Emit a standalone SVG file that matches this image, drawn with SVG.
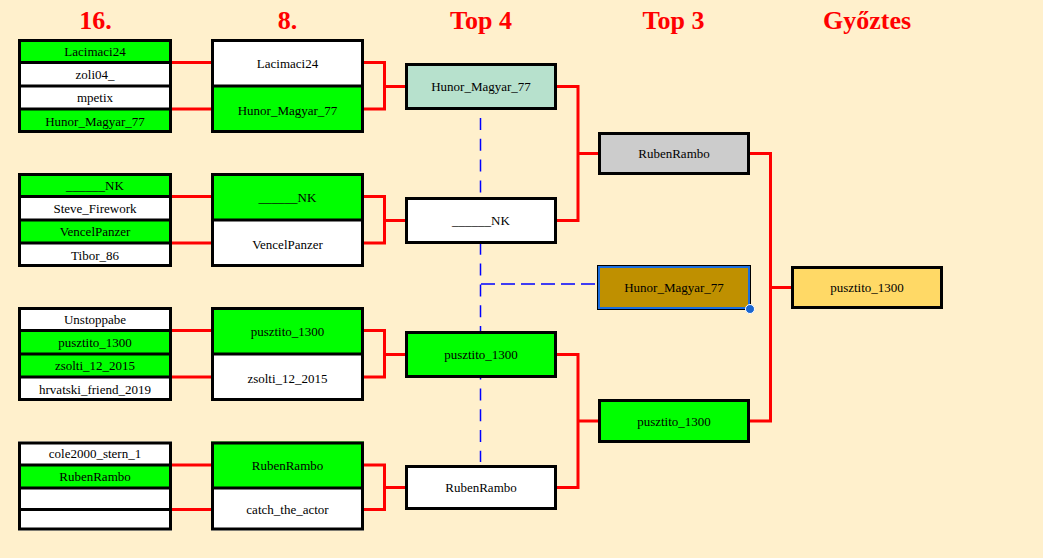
<svg xmlns="http://www.w3.org/2000/svg" width="1043" height="558" viewBox="0 0 1043 558">
<style>
.hdr{font-family:"Liberation Serif","Times New Roman",serif;font-weight:bold;font-size:26px;fill:#ff0000;text-anchor:middle}
.t{font-family:"Liberation Serif","Times New Roman",serif;font-size:13px;fill:#000;text-anchor:middle}
.box{stroke:#000;stroke-width:3}
.div{stroke:#000;stroke-width:3}
.g{fill:#00ff00}
.w{fill:#ffffff}
.con{fill:none;stroke:#ff0000;stroke-width:3}
.dash{fill:none;stroke:#0000ff;stroke-width:1.5}
</style>
<rect x="0" y="0" width="1043" height="558" fill="#fff0cc"/>
<g id="headers">
<text class="hdr" x="95.5" y="29">16.</text>
<text class="hdr" x="287.5" y="29">8.</text>
<text class="hdr" x="481" y="29">Top 4</text>
<text class="hdr" x="673.5" y="29">Top 3</text>
<text class="hdr" x="867" y="29">Győztes</text>
</g>
<g id="connectors">
<path class="dash" d="M480.5 118 V462" stroke-dasharray="12 8.8"/>
<path class="dash" d="M481 284 H597" stroke-dasharray="14 6"/>
<path class="con" d="M172 62.5 H211 M172 109 H211"/>
<path class="con" d="M172 196.5 H211 M172 243 H211"/>
<path class="con" d="M172 330.5 H211 M172 377 H211"/>
<path class="con" d="M172 465 H211 M172 509.5 H211"/>
<path class="con" d="M364 62.5 H384.5 V109 H364 M384.5 86.5 H405"/>
<path class="con" d="M364 196.5 H384.5 V243 H364 M384.5 220.5 H405"/>
<path class="con" d="M364 330.5 H384.5 V377 H364 M384.5 354.5 H405"/>
<path class="con" d="M364 465 H384.5 V509.5 H364 M384.5 487.5 H405"/>
<path class="con" d="M557 86.5 H578 V220.5 H557 M578 153.5 H598"/>
<path class="con" d="M557 354.5 H578 V487.5 H557 M578 421 H598"/>
<path class="con" d="M750 153.5 H770.5 V421 H750 M770.5 287.5 H791"/>
</g>
<g id="r16-1">
<rect class="g" x="18" y="39" width="154" height="23.5"/>
<rect class="w" x="18" y="62.5" width="154" height="23.5"/>
<rect class="w" x="18" y="86" width="154" height="23"/>
<rect class="g" x="18" y="109" width="154" height="24"/>
<path class="div" d="M18 62.5 H172 M18 86 H172 M18 109 H172"/>
<rect class="box" x="19.5" y="40.5" width="151" height="91" fill="none"/>
<text class="t" x="95" y="55.5">Lacimaci24</text>
<text class="t" x="95" y="79">zoli04_</text>
<text class="t" x="95" y="102">mpetix</text>
<text class="t" x="95" y="125.5">Hunor_Magyar_77</text>
</g>
<g id="r16-2">
<rect class="g" x="18" y="173" width="154" height="23.5"/>
<rect class="w" x="18" y="196.5" width="154" height="23.5"/>
<rect class="g" x="18" y="220" width="154" height="23"/>
<rect class="w" x="18" y="243" width="154" height="24"/>
<path class="div" d="M18 196.5 H172 M18 220 H172 M18 243 H172"/>
<rect class="box" x="19.5" y="174.5" width="151" height="91" fill="none"/>
<text class="t" x="95" y="189.5">______NK</text>
<text class="t" x="95" y="213">Steve_Firework</text>
<text class="t" x="95" y="236">VencelPanzer</text>
<text class="t" x="95" y="259.5">Tibor_86</text>
</g>
<g id="r16-3">
<rect class="w" x="18" y="307" width="154" height="23.5"/>
<rect class="g" x="18" y="330.5" width="154" height="23.5"/>
<rect class="g" x="18" y="354" width="154" height="23"/>
<rect class="w" x="18" y="377" width="154" height="24"/>
<path class="div" d="M18 330.5 H172 M18 354 H172 M18 377 H172"/>
<rect class="box" x="19.5" y="308.5" width="151" height="91" fill="none"/>
<text class="t" x="95" y="323.5">Unstoppabe</text>
<text class="t" x="95" y="347">pusztito_1300</text>
<text class="t" x="95" y="370">zsolti_12_2015</text>
<text class="t" x="95" y="393.5">hrvatski_friend_2019</text>
</g>
<g id="r16-4">
<rect class="w" x="18" y="441.5" width="154" height="23.5"/>
<rect class="g" x="18" y="465" width="154" height="23"/>
<rect class="w" x="18" y="488" width="154" height="21.5"/>
<rect class="w" x="18" y="509.5" width="154" height="21"/>
<path class="div" d="M18 465 H172 M18 488 H172 M18 509.5 H172"/>
<rect class="box" x="19.5" y="443" width="151" height="86" fill="none"/>
<text class="t" x="95" y="457.5">cole2000_stern_1</text>
<text class="t" x="95" y="480.5">RubenRambo</text>
</g>
<g id="r8-1">
<rect class="w" x="211" y="39" width="153" height="47"/>
<rect class="g" x="211" y="86" width="153" height="47"/>
<path class="div" d="M211 86 H364"/>
<rect class="box" x="212.5" y="40.5" width="150" height="91" fill="none"/>
<text class="t" x="287.5" y="68">Lacimaci24</text>
<text class="t" x="287.5" y="114.5">Hunor_Magyar_77</text>
</g>
<g id="r8-2">
<rect class="g" x="211" y="173" width="153" height="47"/>
<rect class="w" x="211" y="220" width="153" height="47"/>
<path class="div" d="M211 220 H364"/>
<rect class="box" x="212.5" y="174.5" width="150" height="91" fill="none"/>
<text class="t" x="287.5" y="202">______NK</text>
<text class="t" x="287.5" y="248.5">VencelPanzer</text>
</g>
<g id="r8-3">
<rect class="g" x="211" y="307" width="153" height="47"/>
<rect class="w" x="211" y="354" width="153" height="47"/>
<path class="div" d="M211 354 H364"/>
<rect class="box" x="212.5" y="308.5" width="150" height="91" fill="none"/>
<text class="t" x="287.5" y="336">pusztito_1300</text>
<text class="t" x="287.5" y="382.5">zsolti_12_2015</text>
</g>
<g id="r8-4">
<rect class="g" x="211" y="441.5" width="153" height="46.5"/>
<rect class="w" x="211" y="488" width="153" height="42.5"/>
<path class="div" d="M211 488 H364"/>
<rect class="box" x="212.5" y="443" width="150" height="86" fill="none"/>
<text class="t" x="287.5" y="470">RubenRambo</text>
<text class="t" x="287.5" y="514">catch_the_actor</text>
</g>
<g id="top4-1">
<rect class="box" x="406.5" y="64.5" width="149" height="44" fill="#b7e1cd"/>
<text class="t" x="481" y="91">Hunor_Magyar_77</text>
</g>
<g id="top4-2">
<rect class="box" x="406.5" y="198.5" width="149" height="44" fill="#ffffff"/>
<text class="t" x="481" y="225">______NK</text>
</g>
<g id="top4-3">
<rect class="box" x="406.5" y="332.5" width="149" height="44" fill="#00ff00"/>
<text class="t" x="481" y="359">pusztito_1300</text>
</g>
<g id="top4-4">
<rect class="box" x="406.5" y="466.5" width="149" height="42" fill="#ffffff"/>
<text class="t" x="481" y="492">RubenRambo</text>
</g>
<g id="top3-1">
<rect class="box" x="599.5" y="133.5" width="149" height="40" fill="#cccccc"/>
<text class="t" x="674" y="158">RubenRambo</text>
</g>
<g id="top3-bronze">
<rect x="597.5" y="265.5" width="153" height="44" fill="none" stroke="#000" stroke-width="1"/>
<rect x="599" y="267" width="150" height="41" fill="#bf9000" stroke="#1a6ee0" stroke-width="2"/>
<circle cx="750" cy="309" r="4.5" fill="#1a66d0" stroke="#ffffff" stroke-width="1"/>
<text class="t" x="674" y="292">Hunor_Magyar_77</text>
</g>
<g id="top3-2">
<rect class="box" x="599.5" y="400.5" width="149" height="41" fill="#00ff00"/>
<text class="t" x="674" y="425.5">pusztito_1300</text>
</g>
<g id="winner">
<rect class="box" x="792.5" y="267.5" width="149" height="40" fill="#ffd966"/>
<text class="t" x="867" y="292">pusztito_1300</text>
</g>
</svg>
